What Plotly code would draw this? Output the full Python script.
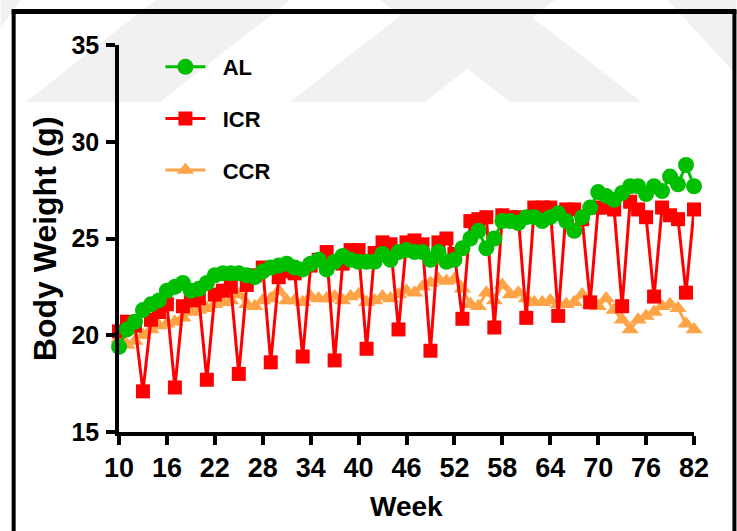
import plotly.graph_objects as go

weeks = list(range(10, 83))

al = [19.4, 20.3, 20.7, 21.3, 21.6, 21.8, 22.3, 22.5, 22.7, 22.3,
      22.4, 22.7, 23.1, 23.2, 23.2, 23.2, 23.1, 23.0, 23.3, 23.5,
      23.6, 23.7, 23.5, 23.4, 23.7, 23.9, 23.4, 23.8, 24.1, 23.9,
      23.8, 23.8, 23.8, 24.2, 23.9, 24.3, 24.4, 24.3, 24.3, 23.9,
      24.3, 23.8, 23.9, 24.5, 25.0, 25.4, 24.5, 25.0, 25.9, 25.9,
      25.8, 26.1, 26.1, 25.9, 26.1, 26.3, 25.9, 25.4, 26.1, 26.6,
      27.4, 27.2, 27.0, 27.35, 27.7, 27.7, 27.3, 27.7, 27.45, 28.2,
      27.8, 28.8, 27.7]

icr = [20.2, 20.7, 20.5, 17.1, 20.8, 21.2, 21.6, 17.3, 21.5, 21.8,
       21.9, 17.7, 22.1, 22.3, 22.5, 18.0, 22.6, 23.1, 23.5, 18.6,
       23.0, 23.3, 23.2, 18.9, 23.6, 23.9, 24.3, 18.7, 23.7, 24.4,
       24.4, 19.3, 24.25, 24.8, 24.7, 20.3, 24.8, 24.9, 24.7, 19.2,
       24.8, 25.0, 24.2, 20.85, 25.9, 26.0, 26.1, 20.4, 26.2, 26.1,
       26.1, 20.9, 26.6, 26.6, 26.6, 21.0, 26.5, 26.5, 26.0, 21.7,
       26.6, 26.6, 26.5, 21.5, 26.9, 26.5, 26.1, 22.0, 26.6, 26.2,
       26.0, 22.2, 26.5]

ccr = [19.8, 19.5, 19.7, 20.0, 20.3, 20.5, 20.6, 20.7, 20.9, 21.2,
       21.3, 21.4, 21.6, 21.7, 21.8, 22.1, 21.6, 21.5, 21.8, 21.9,
       22.3, 21.8, 21.8, 21.7, 22.0, 21.9, 21.9, 22.0, 21.8, 22.0,
       22.1, 21.7, 21.8, 22.0, 21.9, 22.1, 22.3, 22.2, 22.5, 22.7,
       22.9, 22.8, 22.9, 22.4, 21.6, 21.5, 22.2, 21.8, 22.6, 22.1,
       22.2, 21.9, 21.7, 21.7, 21.8, 21.6, 21.6, 21.7, 22.1, 21.6,
       21.5, 21.9, 21.3, 20.8, 20.3, 20.8, 21.0, 21.2, 21.5, 21.6,
       21.4, 20.6, 20.3]

x_ticks = list(range(10, 83, 6))
y_ticks = [15, 20, 25, 30, 35]

W, H = 737, 531
ML, MR, MT, MB = 118.5, 42.5, 45, 99
PW, PH = W - ML - MR, H - MT - MB

def px(x):
    return (x - ML) / PW

def py(y):
    return (H - MB - y) / PH

FONT = "Arial, 'Liberation Sans', sans-serif"
NB = "\u00a0\u00a0"

fig = go.Figure()

series = [
    ("CCR", ccr, "#FFA347", "triangle-up", 15, 3),
    ("ICR", icr, "#FF0000", "square", 14, 2),
    ("AL", al, "#00BE00", "circle", 16, 1),
]
for name, vals, col, sym, sz, rank in series:
    fig.add_trace(go.Scatter(
        x=weeks, y=vals, name=NB + name, mode="lines+markers",
        line=dict(color=col, width=3),
        marker=dict(color=col, symbol=sym, size=sz, line=dict(width=0)),
        cliponaxis=False, legendgroup=name, legendrank=rank,
    ))

# watermark bands (light gray)
wm = "#F1F1F1"
bands = [
    [(0, 0), (20, 0), (0, 28)],
    [(25, 102), (160, 102), (290, 0), (155, 0)],
    [(290, 102), (425, 102), (555, 0), (420, 0)],
    [(510, 102), (642, 102), (510, 0), (380, 0)],
    [(668, 0), (737, 0), (737, 75)],
]
shapes = []
for poly in bands:
    path = "M " + " L ".join(f"{px(a):.4f},{py(b):.4f}" for a, b in poly) + " Z"
    shapes.append(dict(type="path", xref="paper", yref="paper", path=path,
                       fillcolor=wm, line=dict(width=0), layer="below"))
# outer frame: one open path (left, top, right edges)
fpts = [(13, 531), (13, 11), (735, 11), (735, 531)]
fpath = "M " + " L ".join(f"{px(a):.4f},{py(b):.4f}" for a, b in fpts)
shapes.append(dict(type="path", xref="paper", yref="paper", path=fpath,
                   line=dict(color="black", width=4), layer="above"))
# top edge again, sized in pixels from the plot-area top
shapes.append(dict(type="rect", xref="paper", yref="paper",
                   ysizemode="pixel", yanchor=1, y0=31, y1=35,
                   x0=px(11), x1=px(737),
                   line=dict(width=0), fillcolor="black", layer="above"))

fig.update_layout(
    width=W, height=H,
    margin=dict(l=ML, r=MR, t=MT, b=MB, pad=0, autoexpand=False),
    paper_bgcolor="white", plot_bgcolor="rgba(0,0,0,0)",
    font=dict(family=FONT, color="black"),
    shapes=shapes,
    showlegend=True,
    legend=dict(
        x=px(160), y=py(46), xanchor="left", yanchor="top",
        traceorder="grouped", tracegroupgap=20,
        font=dict(size=22, weight="bold", family=FONT),
        bgcolor="rgba(0,0,0,0)", itemwidth=40,
    ),
    annotations=[
        dict(text="Body Weight (g)", xref="paper", yref="paper",
             x=px(44), y=py(238.5), xanchor="center", yanchor="middle",
             textangle=-90, showarrow=False,
             font=dict(size=32, weight="bold", family=FONT)),
        dict(text="Week", xref="paper", yref="paper",
             x=px(406.5), y=py(507), xanchor="center", yanchor="middle",
             showarrow=False,
             font=dict(size=28, weight="bold", family=FONT)),
    ],
    xaxis=dict(
        range=[10, 82], tickvals=x_ticks, ticktext=[str(v) for v in x_ticks],
        showline=True, linecolor="black", linewidth=3.5,
        ticks="outside", ticklen=9, tickwidth=3.5, tickcolor="black",
        showgrid=False, zeroline=False,
        tickfont=dict(size=27, weight="bold", family=FONT),
        ticklabelstandoff=0,
    ),
    yaxis=dict(
        range=[15, 35], tickvals=y_ticks,
        showline=True, linecolor="black", linewidth=3.5,
        ticks="outside", ticklen=9, tickwidth=3.5, tickcolor="black",
        showgrid=False, zeroline=False,
        tickfont=dict(size=25, weight="bold", family=FONT),
        ticklabelstandoff=2,
    ),
)

fig.write_html("out.html", config={"displayModeBar": False})
